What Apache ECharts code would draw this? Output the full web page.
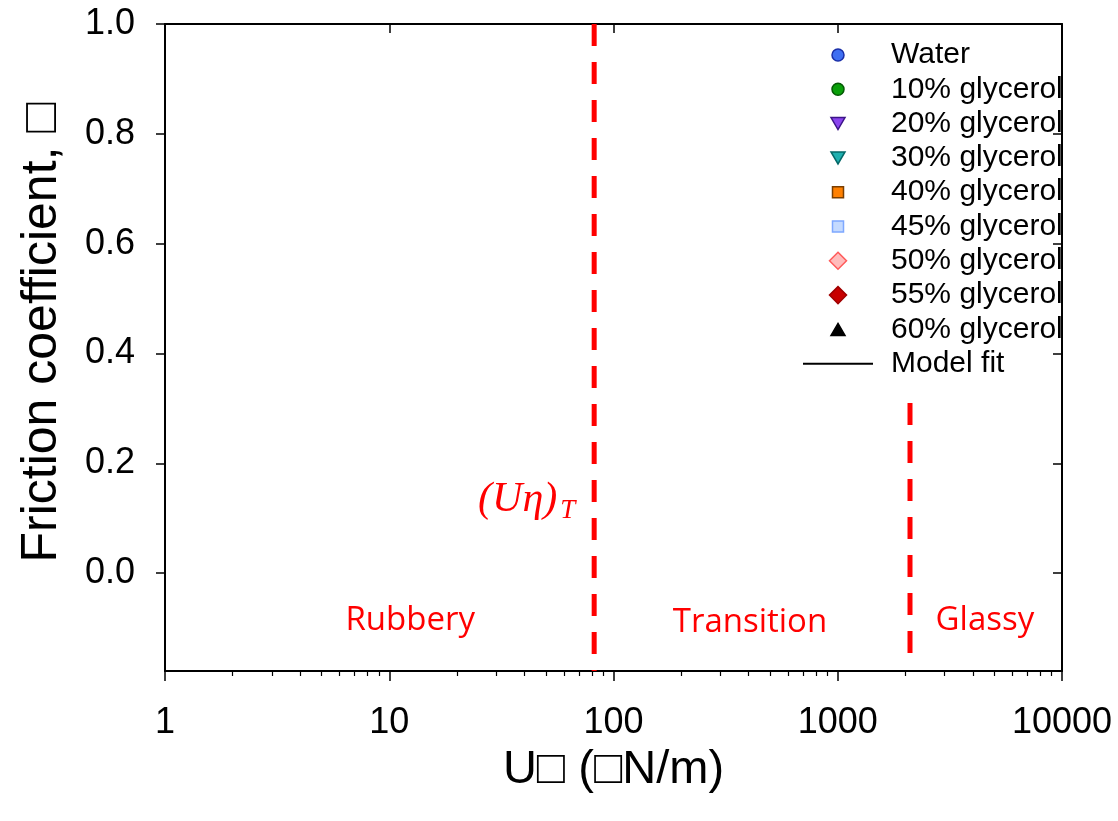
<!DOCTYPE html>
<html>
<head>
<meta charset="utf-8">
<script src="https://cdn.jsdelivr.net/npm/echarts@6/dist/echarts.min.js"></script>
<style>
html,body{margin:0;padding:0;background:#fff;}
#chart{width:1118px;height:821px;}
</style>
</head>
<body>
<div id="chart"></div>
<script>
// ---- data ----
const xMin = 1, xMax = 10000;
const yMin = -0.178, yMax = 1.0;
const xMajorTicks = [1, 10, 100, 1000, 10000];
const xMinorTicks = [2,3,4,5,6,7,8,9,20,30,40,50,60,70,80,90,200,300,400,500,600,700,800,900,2000,3000,4000,5000,6000,7000,8000,9000];
const yTicks = [0, 0.2, 0.4, 0.6, 0.8, 1.0];
const xTitle = 'U\u25A1 (\u25A1N/m)';
const yTitle = 'Friction coefficient, \u25A1';

const seriesNames = ['Water','10% glycerol','20% glycerol','30% glycerol','40% glycerol','45% glycerol','50% glycerol','55% glycerol','60% glycerol'];
const seriesFill = ['#3f6ff2','#0aa00a','#8a44ee','#1fb0b0','#ff8000','#c4daff','#ffbcbc','#c80000','#000000'];
const seriesBorder = ['#1a2fa8','#045a04','#3c1488','#046868','#7a3e00','#7ea8ff','#ff5a5a','#a00000','#000000'];
const seriesIcons = [
  'path://M0,0M17,17M14.5,8.5A6,6,0,1,1,2.5,8.5A6,6,0,1,1,14.5,8.5Z',
  'path://M0,0M17,17M14.5,8.5A6,6,0,1,1,2.5,8.5A6,6,0,1,1,14.5,8.5Z',
  'path://M0,0M17,17M1.5,2.5L15.5,2.5L8.5,14.5Z',
  'path://M0,0M17,17M1.5,2.5L15.5,2.5L8.5,14.5Z',
  'path://M0,0M17,17M3,3L14,3L14,14L3,14Z',
  'path://M0,0M17,17M3,3L14,3L14,14L3,14Z',
  'path://M8.5,0L17,8.5L8.5,17L0,8.5Z',
  'path://M8.5,0L17,8.5L8.5,17L0,8.5Z',
  'path://M0,0M17,17M8.5,2.5L15.5,14.5L1.5,14.5Z'
];
const fitName = 'Model fit';

// vertical dashed regime boundaries: [x, y] endpoints
const boundaryRT = [[82, 1.0], [82, -0.178]];
const boundaryTG = [[2100, 0.31], [2100, -0.171]];

// regime labels: [x, y, text]
const regimeLabels = [
  [12.4, -0.086, 'Rubbery'],
  [406, -0.090, 'Transition'],
  [4530, -0.086, 'Glassy']
];
const transitionLabel = [[41, 0.134, '(U\u03B7)T']];

// ---- chart ----
const chart = echarts.init(document.getElementById('chart'), null, {renderer: 'canvas'});
const axisFont = 'Liberation Sans, Arial, sans-serif';
const clear = 'rgba(0,0,0,0)';

const series = [];
seriesNames.forEach((n, i) => {
  series.push({
    name: n, type: 'scatter', data: [],
    itemStyle: {color: seriesFill[i], borderColor: seriesBorder[i], borderWidth: 1.5, opacity: 1}
  });
});
series.push({
  name: fitName, type: 'line', data: [], symbol: 'none', showSymbol: false,
  itemStyle: {color: '#000'},
  lineStyle: {color: '#000', width: 1.5}
});
[boundaryRT, boundaryTG].forEach((d, i) => {
  series.push({
    name: 'boundary' + i, type: 'line', data: d, symbol: 'none', silent: true, z: 5,
    xAxisIndex: 0, yAxisIndex: 0,
    lineStyle: {color: '#ff0000', width: 5, type: [22, 16], cap: 'butt', opacity: 1}
  });
});
series.push({
  name: 'regimes', type: 'scatter', silent: true, symbolSize: 1, z: 6,
  itemStyle: {color: clear, opacity: 1},
  data: regimeLabels.map(r => ({value: [r[0], r[1]], name: r[2]})),
  label: {show: true, position: 'inside', formatter: p => p.name, color: '#ff0000', opacity: 1,
    textBorderWidth: 0, fontFamily: 'Open Sans, sans-serif', fontSize: 33}
});
series.push({
  name: 'transition', type: 'scatter', silent: true, symbolSize: 1, z: 6,
  itemStyle: {color: clear, opacity: 1},
  data: transitionLabel.map(r => ({value: [r[0], r[1]], name: r[2]})),
  label: {show: true, position: 'inside', color: '#ff0000', opacity: 1, textBorderWidth: 0,
    formatter: '{a|(U\u03B7)}{b|T}',
    rich: {
      a: {fontFamily: 'Liberation Serif, serif', fontStyle: 'italic', fontSize: 42, color: '#ff0000', textBorderWidth: 0},
      b: {fontFamily: 'Liberation Serif, serif', fontStyle: 'italic', fontSize: 27, color: '#ff0000', textBorderWidth: 0, padding: [22, 0, 0, 3]}
    }}
});

const option = {
  animation: false,
  backgroundColor: '#ffffff',
  grid: {left: 165, right: 56, top: 24, bottom: 150, containLabel: false, outerBoundsMode: 'none'},
  legend: {
    orient: 'vertical', left: 803, top: 38, padding: 0,
    itemWidth: 70, itemHeight: 17, itemGap: 0.3,
    selectedMode: false,
    textStyle: {fontFamily: axisFont, fontSize: 30, color: '#000', lineHeight: 34, padding: [0, 0, 0, 13]},
    data: seriesNames.map((n, i) => ({
      name: n, icon: seriesIcons[i],
      itemStyle: {color: seriesFill[i], borderColor: seriesBorder[i], borderWidth: 1.5, opacity: 1}
    })).concat([{name: fitName, icon: 'path://M0,0L70,0L70,2L0,2Z', itemStyle: {color: '#000', borderWidth: 0}}])
  },
  xAxis: [
    {
      type: 'log', logBase: 10, min: xMin, max: xMax, position: 'bottom',
      name: xTitle, nameLocation: 'middle', nameGap: 76,
      nameTextStyle: {fontFamily: axisFont, fontSize: 47, color: '#000'},
      axisLine: {show: true, onZero: false, lineStyle: {color: '#000', width: 2}},
      axisTick: {show: true, inside: false, length: 10, lineStyle: {color: '#000', width: 1.5}, customValues: xMajorTicks},
      axisLabel: {show: true, margin: 34, fontFamily: axisFont, fontSize: 36, color: '#000',
        customValues: xMajorTicks, formatter: v => String(Math.round(v))},
      splitLine: {show: false}, minorTick: {show: false}
    },
    {
      type: 'log', logBase: 10, min: xMin, max: xMax, position: 'bottom',
      axisLine: {show: false, onZero: false},
      axisTick: {show: true, inside: false, length: 5, lineStyle: {color: '#000', width: 1.2}, customValues: xMinorTicks},
      axisLabel: {show: false},
      splitLine: {show: false}
    },
    {
      type: 'log', logBase: 10, min: xMin, max: xMax, position: 'top',
      axisLine: {show: true, onZero: false, lineStyle: {color: '#000', width: 2}},
      axisTick: {show: true, inside: true, length: 9, lineStyle: {color: '#000', width: 1.5}, customValues: xMajorTicks},
      axisLabel: {show: false},
      splitLine: {show: false}
    }
  ],
  yAxis: [
    {
      type: 'value', min: yMin, max: yMax, position: 'left',
      name: yTitle, nameLocation: 'middle', nameGap: 98,
      nameTextStyle: {fontFamily: axisFont, fontSize: 50, color: '#000', padding: [0, 0, 0, 30]},
      axisLine: {show: true, onZero: false, lineStyle: {color: '#000', width: 2}},
      axisTick: {show: true, inside: false, length: 9, lineStyle: {color: '#000', width: 1.5}, customValues: yTicks},
      axisLabel: {show: true, margin: 30, fontFamily: axisFont, fontSize: 36, color: '#000',
        customValues: yTicks, formatter: v => Number(v).toFixed(1)},
      splitLine: {show: false}
    },
    {
      type: 'value', min: yMin, max: yMax, position: 'right',
      axisLine: {show: true, onZero: false, lineStyle: {color: '#000', width: 2}},
      axisTick: {show: true, inside: true, length: 9, lineStyle: {color: '#000', width: 1.5}, customValues: yTicks},
      axisLabel: {show: false},
      splitLine: {show: false}
    }
  ],
  series: series
};
chart.setOption(option);
</script>
</body>
</html>
